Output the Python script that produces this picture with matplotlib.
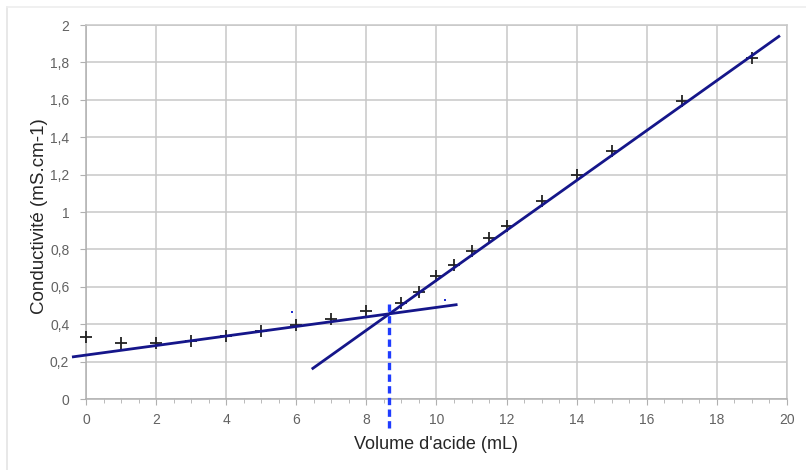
import matplotlib
matplotlib.use("Agg")
import matplotlib.pyplot as plt
from matplotlib.lines import Line2D
from matplotlib.ticker import MultipleLocator, FuncFormatter

# Data
volume = [0, 1, 2, 3, 4, 5, 6, 7, 8, 9, 9.5, 10, 10.5, 11, 11.5, 12, 13, 14, 15, 17, 19]
conductivite = [0.33, 0.30, 0.298, 0.312, 0.337, 0.363, 0.396, 0.43, 0.47, 0.515, 0.571,
                0.657, 0.717, 0.793, 0.859, 0.927, 1.059, 1.198, 1.328, 1.594, 1.825]

# Fitted lines (slope, intercept) and their drawn x ranges
line1_slope, line1_intercept = 0.0255, 0.235
line1_x = [-0.4, 10.6]
line2_slope, line2_intercept = 0.1335, -0.70
line2_x = [6.44, 19.8]

# equivalence marker (vertical dashed) y range
equiv_y = [0.51, -0.16]

# stray dots in the picture
stray_x = [5.89, 10.25]
stray_y = [0.466, 0.53]

x_ticks = list(range(0, 21, 2))
y_ticks = [0, 0.2, 0.4, 0.6, 0.8, 1.0, 1.2, 1.4, 1.6, 1.8, 2.0]

plt.rcParams['font.family'] = ['Liberation Sans', 'DejaVu Sans']

fig = plt.figure(figsize=(8.06, 4.70), dpi=100)
ax = fig.add_axes([0.1067, 0.151, 0.8697, 0.7958])

grid_c = '#c8c8c8'
ax.set_xlim(0, 20)
ax.set_ylim(0, 2)
ax.set_xticks(x_ticks)
ax.set_yticks(y_ticks)
ax.xaxis.set_minor_locator(MultipleLocator(0.5))
fmt = FuncFormatter(lambda v, p: ('%g' % v).replace('.', ','))
ax.xaxis.set_major_formatter(fmt)
ax.yaxis.set_major_formatter(fmt)
ax.grid(True, color=grid_c, linewidth=1.1)
for s in ax.spines.values():
    s.set_color(grid_c)
    s.set_linewidth(1.1)
ax.spines['left'].set_color('#b0b0b0')
ax.spines['bottom'].set_color('#b0b0b0')
ax.tick_params(axis='both', which='major', length=4, color='#b0b0b0',
               labelcolor='#626262', labelsize=10)
ax.tick_params(axis='x', which='major', pad=6)
ax.tick_params(axis='y', which='major', pad=8)
ax.tick_params(axis='x', which='minor', length=3, color='#b0b0b0')
ax.tick_params(axis='y', which='minor', length=0)
ax.set_axisbelow(True)

# data points
ax.plot(volume, conductivite, linestyle='none', marker='+', markersize=9,
        markeredgewidth=1.3, color='#222222', zorder=3, clip_on=False)

# fitted lines
navy = '#15168a'
l1y = [line1_slope * x + line1_intercept for x in line1_x]
l2y = [line2_slope * x + line2_intercept for x in line2_x]
ax.plot(line1_x, l1y, color=navy, linewidth=2.0, clip_on=False, zorder=4,
        solid_capstyle='butt')
ax.plot(line2_x, l2y, color=navy, linewidth=2.0, clip_on=False, zorder=4,
        solid_capstyle='butt')

# equivalence volume
x_eq = (line1_intercept - line2_intercept) / (line2_slope - line1_slope)
ax.add_line(Line2D([x_eq, x_eq], equiv_y, color='#1f3cff', linewidth=2.4,
                   linestyle=(0, (2.2, 1.3)), clip_on=False, zorder=5))

ax.plot(stray_x, stray_y, linestyle='none', marker='s', markersize=1.6,
        color='#2030d0', markeredgewidth=0, zorder=3)

ax.set_xlabel("Volume d'acide (mL)", fontsize=13, color='#262626')
ax.set_ylabel("Conductivité (mS.cm-1)", fontsize=13.5, color='#262626')
ax.xaxis.set_label_coords(0.5, -0.100)
ax.yaxis.set_label_coords(-0.054, 0.489)

# light frame of the picture
fig.add_artist(Line2D([0.0087, 0.0087], [0.0, 0.985], color='#e4e4e4',
                      linewidth=1.2, transform=fig.transFigure))
fig.add_artist(Line2D([0.0087, 1.0], [0.985, 0.985], color='#eeeeee',
                      linewidth=1.2, transform=fig.transFigure))

fig.savefig('out.png', dpi=100, facecolor='white')
